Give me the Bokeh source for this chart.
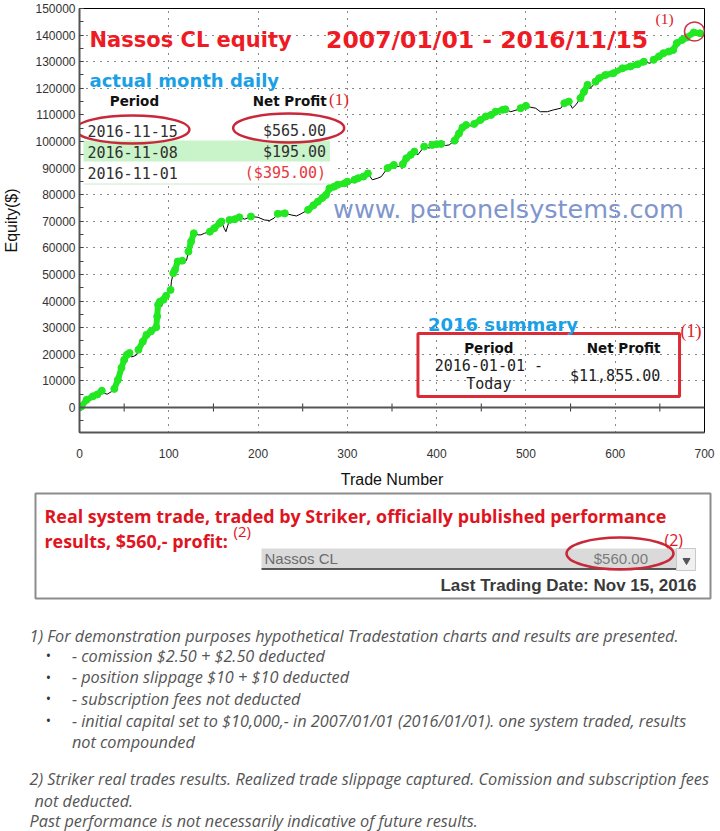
import numpy as np
from bokeh.plotting import figure
from bokeh.models import (Range1d, Label, Span,
                          SingleIntervalTicker, BasicTickFormatter)
from bokeh.layouts import column
from bokeh.embed import file_html
from bokeh.resources import INLINE

# ---------------- data ----------------
trades = [0, 2, 8, 15, 20, 25, 28, 31, 36, 39, 43, 47, 50, 53, 56, 58, 61, 64, 66, 71,
          75, 80, 86, 87, 88, 90, 92, 94, 97, 99, 102, 103, 105, 107, 110, 115, 117, 120,
          122, 125, 128, 133, 136, 140, 146, 151, 157, 159, 162, 164, 168, 174, 179, 185,
          192, 200, 207, 213, 218, 222, 230, 237, 243, 248, 256, 262, 267, 272, 276, 280,
          285, 289, 297, 300, 302, 308, 312, 318, 323, 328, 334, 338, 345, 352, 357, 362,
          366, 371, 375, 379, 386, 392, 395, 400, 405, 410, 414, 420, 425, 429, 433, 438,
          442, 449, 455, 461, 466, 474, 477, 483, 490, 494, 500, 505, 511, 516, 524, 531,
          539, 543, 548, 552, 556, 561, 565, 569, 571, 574, 578, 582, 589, 598, 608, 617,
          625, 632, 639, 643, 649, 654, 660, 665, 669, 675, 680, 688, 695]
equity = [0, 400, 2900, 4200, 4900, 6300, 5300, 5000, 6000, 7000, 10400, 14900, 17900,
          19800, 20500, 19000, 19300, 19800, 21700, 24800, 27300, 28600, 30200, 34200,
          38600, 39800, 38000, 40500, 42000, 43000, 44200, 47500, 50500, 51800, 54900,
          55200, 54000, 55500, 58600, 62400, 65500, 64900, 64900, 65500, 66100, 67400,
          69300, 69900, 67400, 66100, 70500, 70800, 71500, 70800, 71800, 71500, 70500,
          70300, 71200, 72800, 73000, 72400, 72000, 72800, 74300, 76000, 77400, 78800,
          79900, 82400, 83000, 83700, 84300, 84900, 84100, 85600, 86200, 86800, 88000,
          85600, 86200, 86800, 90000, 91200, 90600, 91400, 93700, 95000, 96200, 95000,
          98100, 97500, 98700, 99000, 99100, 98500, 98700, 100300, 103000, 105300, 106200,
          105900, 106600, 108100, 109400, 110000, 111200, 111900, 112100, 111200, 111900,
          112500, 113400, 112900, 112500, 111200, 111200, 111900, 112500, 114400, 115000,
          112500, 113800, 116300, 118700, 121300, 120000, 120600, 122500, 123800, 125000,
          125700, 127500, 128200, 129000, 130000, 129400, 130700, 132000, 133200, 133800,
          134400, 137000, 138200, 139100, 141000, 140700]
new_high = [1, 1, 1, 1, 1, 1, 0, 0, 0, 1, 1, 1, 1, 1, 1, 0, 0, 0, 1, 1,
            1, 1, 1, 1, 1, 1, 0, 1, 1, 0, 1, 0, 1, 1, 1, 1, 0, 0,
            1, 1, 1, 0, 0, 0, 1, 1, 1, 1, 0, 0, 1, 1, 1, 0,
            1, 0, 0, 0, 0, 1, 1, 0, 0, 0, 1, 1, 1, 1, 1, 1,
            1, 1, 1, 1, 0, 1, 1, 1, 1, 0, 0, 0, 1, 1, 0, 1,
            1, 1, 1, 0, 1, 0, 1, 1, 1, 0, 0, 1, 1, 1, 1, 0,
            1, 1, 1, 1, 1, 1, 1, 0, 0, 1, 1, 0, 0, 0, 0, 0,
            0, 1, 1, 0, 0, 1, 1, 1, 0, 0, 1, 1, 1, 1, 1, 1,
            1, 1, 0, 1, 1, 1, 1, 1, 1, 1, 1, 1, 1]

zero_line_ticks = [50, 150, 250, 350, 450, 550, 650]

recent_periods = ["2016-11-15", "2016-11-08", "2016-11-01"]
recent_profits = ["$565.00", "$195.00", "($395.00)"]
summary_period = ["2016-01-01 -", "Today"]
summary_profit = "$11,855.00"

# ---------------- geometry ----------------
W, H_TOP, H_BOT = 720, 490, 341
FL, FT, FR, FB = 78, 8, 16, 58
FW = W - FL - FR
FH = H_TOP - FT - FB
X0, X1 = 0, 700
Y0, Y1 = -9400, 150000


def dx(px):
    return X0 + (px - FL) / FW * (X1 - X0)


def dy(py):
    return Y1 - (py - FT) / FH * (Y1 - Y0)


RED = "#ee1b24"
OVAL = "#c8283a"
BLUE = "#1aa0e6"
GREEN = "#22e822"

p = figure(width=W, height=H_TOP, x_range=Range1d(X0, X1), y_range=Range1d(Y0, Y1),
           output_backend="svg", toolbar_location=None,
           min_border_left=FL, min_border_right=FR, min_border_top=FT,
           min_border_bottom=FB, background_fill_color="white",
           border_fill_color="white")
p.outline_line_color = "black"
p.outline_line_width = 1

xt = SingleIntervalTicker(interval=100, num_minor_ticks=0)
yt = SingleIntervalTicker(interval=10000, num_minor_ticks=2)
p.xaxis.ticker = xt
p.yaxis.ticker = yt
p.xgrid.ticker = xt
p.ygrid.ticker = yt
p.yaxis.formatter = BasicTickFormatter(use_scientific=False)
for g in (p.xgrid[0], p.ygrid[0]):
    g.grid_line_color = "#111111"
    g.grid_line_dash = "1 6"
    g.grid_line_width = 1

for ax in (p.xaxis[0], p.yaxis[0]):
    ax.axis_line_color = "#555555"
    ax.axis_line_width = 2
    ax.major_label_text_font = "Liberation Sans"
    ax.major_label_text_font_size = "12px"
    ax.major_label_text_color = "#333333"
    ax.axis_label_text_font = "Liberation Sans"
    ax.axis_label_text_font_size = "16px"
    ax.axis_label_text_font_style = "normal"
    ax.axis_label_text_color = "#111111"

p.xaxis.axis_label = "Trade Number"
p.xaxis.major_tick_line_color = None
p.xaxis.minor_tick_line_color = None
p.xaxis.major_label_standoff = 10
p.xaxis.axis_label_standoff = 10

p.yaxis.axis_label = "Equity($)"
p.yaxis.major_tick_in = 4
p.yaxis.major_tick_out = 0
p.yaxis.minor_tick_in = 4
p.yaxis.minor_tick_out = 0
p.yaxis.major_tick_line_color = "#444444"
p.yaxis.minor_tick_line_color = "#444444"
p.yaxis.major_label_standoff = 4
p.yaxis.axis_label_standoff = 12

# zero line with its small ticks
p.add_layout(Span(location=0, dimension="width", line_color="#555555", line_width=2))
half = 4 * (Y1 - Y0) / FH
p.segment(x0=zero_line_ticks, y0=[-half] * len(zero_line_ticks),
          x1=zero_line_ticks, y1=[half] * len(zero_line_ticks),
          line_color="#333333", line_width=1)

# table backgrounds
p.quad(left=[dx(80)], right=[dx(335)], top=[dy(90)], bottom=[dy(185)],
       fill_color="white", line_color=None)
p.quad(left=[dx(82)], right=[dx(329)], top=[dy(140)], bottom=[dy(161)],
       fill_color="#c9f3c9", line_color=None)
p.segment(x0=[dx(82)], y0=[dy(183.5)], x1=[dx(329)], y1=[dy(183.5)],
          line_color="#cfe8cf", line_width=1)

# equity curve
p.line(trades, equity, line_color="black", line_width=1)
runs_x, runs_y, cx_, cy_ = [], [], [], []
for t, e, g in zip(trades, equity, new_high):
    if g:
        cx_.append(t)
        cy_.append(e)
    elif cx_:
        runs_x.append(cx_)
        runs_y.append(cy_)
        cx_, cy_ = [], []
if cx_:
    runs_x.append(cx_)
    runs_y.append(cy_)
p.multi_line(runs_x, runs_y, line_color=GREEN, line_width=6,
             line_cap="round", line_join="round")
gx = [t for t, g in zip(trades, new_high) if g]
gy = [e for e, g in zip(equity, new_high) if g]
p.scatter(gx, gy, size=7, color=GREEN)


def tl(px, py, text, size, color, font="DejaVu Sans", style="normal",
       align="left", baseline="middle"):
    p.add_layout(Label(x=dx(px), y=dy(py), text=text, text_font=font,
                       text_font_size=size, text_font_style=style,
                       text_color=color, text_align=align,
                       text_baseline=baseline))


# title and notes on the chart
tl(88, 39, "Nassos CL equity", "21px", RED, style="bold", baseline="alphabetic")
tl(325, 39, "2007/01/01  -  2016/11/15", "23.5px", RED, style="bold",
   baseline="alphabetic")
tl(655, 18, "(1)", "15.5px", "#dd2020", font="Liberation Serif")
tl(88, 80, "actual month daily", "18px", BLUE, style="bold", baseline="alphabetic")

tl(133, 100, "Period", "13.5px", "#111111", style="bold", align="center")
tl(288.5, 100, "Net Profit", "13.5px", "#111111", style="bold", align="center")
tl(328, 99, "(1)", "17px", "#dd2020", font="Liberation Serif")
row_y = [130, 151, 172]
for per, prof, yy in zip(recent_periods, recent_profits, row_y):
    tl(86, yy, per, "15px", "#303030", font="DejaVu Sans Mono")
    tl(325, yy, prof, "15px", "#e8383d" if prof.startswith("(") else "#303030",
       font="DejaVu Sans Mono", align="right")

p.ellipse(x=[dx(131)], y=[dy(129)], width=114, height=28, width_units="screen",
          height_units="screen", fill_color=None, line_color=OVAL, line_width=2.5)
p.ellipse(x=[dx(287.5)], y=[dy(127.5)], width=111, height=29, width_units="screen",
          height_units="screen", fill_color=None, line_color=OVAL, line_width=2.5)

tl(332, 208, "www. petronelsystems.com", "25.5px", "#7f96cc")

tl(427, 324, "2016 summary", "18px", BLUE, style="bold", baseline="alphabetic")
p.quad(left=[dx(417)], right=[dx(679)], top=[dy(333)], bottom=[dy(396)],
       fill_color=None, line_color="#dc2a36", line_width=3)
tl(680, 330, "(1)", "18px", "#dd2020", font="Liberation Serif")
tl(488, 347, "Period", "13.5px", "#111111", style="bold", align="center")
tl(623, 347, "Net Profit", "13.5px", "#111111", style="bold", align="center")
tl(488, 365, summary_period[0], "15px", "#222222", font="DejaVu Sans Mono", align="center")
tl(488, 383, summary_period[1], "15px", "#222222", font="DejaVu Sans Mono", align="center")
tl(614.5, 375, summary_profit, "15px", "#222222", font="DejaVu Sans Mono", align="center")

# red ring round the last point
p.ellipse(x=[dx(694)], y=[dy(31)], width=20, height=19, width_units="screen",
          height_units="screen", fill_color=None, line_color="#cc3344", line_width=1.5)

# ---------------- lower panel ----------------
q = figure(width=W, height=H_BOT, x_range=Range1d(0, W), y_range=Range1d(831, 490),
           output_backend="svg", toolbar_location=None, min_border=0,
           x_axis_location=None, y_axis_location=None,
           background_fill_color="white", border_fill_color="white")
q.outline_line_color = None
q.grid.visible = False


def bl(px, py, text, size, color, font="Open Sans", style="normal",
       align="left", baseline="middle"):
    q.add_layout(Label(x=px, y=py, text=text, text_font=font,
                       text_font_size=size, text_font_style=style,
                       text_color=color, text_align=align,
                       text_baseline=baseline))


q.quad(left=[35], right=[710], top=[493], bottom=[598], fill_color=None,
       line_color="#8c8c8c", line_width=2)
bl(44, 515, "Real system trade, traded by Striker, officially published performance",
   "17.9px", "#e0141e", style="bold")
bl(44, 540, "results, $560,- profit:", "17.9px", "#e0141e", style="bold")
bl(233, 530, "(2)", "15px", "#e0141e")

q.quad(left=[261], right=[676], top=[548], bottom=[568], fill_color="#dadada",
       line_color=None)
q.segment(x0=[261], y0=[568.5], x1=[676], y1=[568.5], line_color="#222222",
          line_width=1.5)
q.quad(left=[676], right=[695], top=[548], bottom=[570], fill_color="#f0f0f0",
       line_color="#c8c8c8")
q.scatter(x=[686], y=[560], marker="inverted_triangle", size=7, color="#555555")
bl(264, 558, "Nassos CL", "15px", "#6b6b6b", font="Liberation Sans")
bl(647.5, 558, "$560.00", "15px", "#7a7a7a", font="Liberation Sans", align="right")
q.ellipse(x=[619.5], y=[553], width=107, height=32, width_units="screen",
          height_units="screen", fill_color=None, line_color=OVAL, line_width=2.5)
bl(664, 539, "(2)", "16px", "#e0141e")
bl(696, 585, "Last Trading Date: Nov 15, 2016", "17px", "#3a3a3a",
   font="Liberation Sans", style="bold", align="right")

NOTE = "#555555"
FS = "16.25px"
bl(29, 635, "1) For demonstration purposes hypothetical Tradestation charts and results are presented.",
   FS, NOTE, style="italic")
bullets = ["- comission $2.50 + $2.50 deducted",
           "- position slippage $10 + $10 deducted",
           "- subscription fees not deducted",
           "- initial capital set to $10,000,- in 2007/01/01 (2016/01/01). one system traded, results"]
for txt, yy in zip(bullets, [655, 676.7, 698.3, 720]):
    bl(48, yy, "\u2022", "14px", "#333333", align="center")
    bl(71.4, yy, txt, FS, NOTE, style="italic")
bl(71.4, 741.7, "not compounded", FS, NOTE, style="italic")
bl(29, 778, "2) Striker real trades results. Realized trade slippage captured. Comission and subscription fees",
   FS, NOTE, style="italic")
bl(34, 800, "not deducted.", FS, NOTE, style="italic")
bl(29, 820, "Past performance is not necessarily indicative of future results.",
   FS, NOTE, style="italic")

# keep the two panels independent (no frame alignment between them)
if "frame_align" in q.properties():
    p.frame_align = False
    q.frame_align = False
    layout = column(p, q, spacing=0)
else:
    layout = column(p, column(q), spacing=0)

open("out.html", "w").write(file_html(layout, INLINE))
